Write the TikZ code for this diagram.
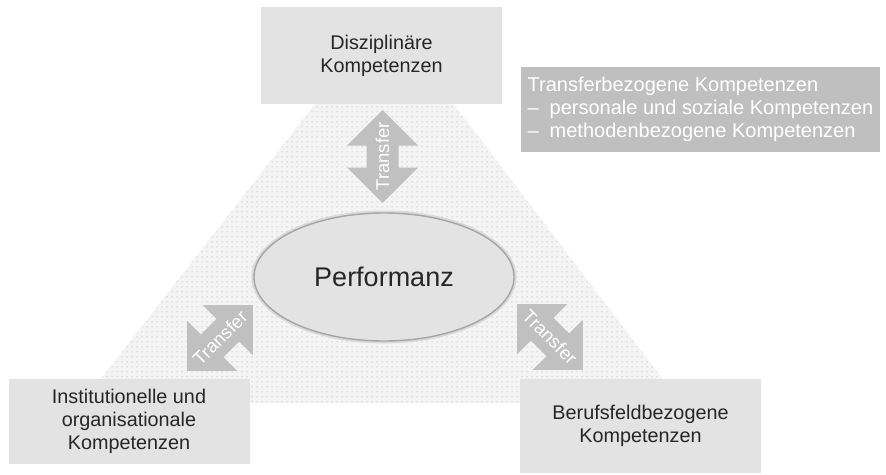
\documentclass[tikz,border=0pt]{standalone}
\usepackage{fontspec}
\setmainfont{Liberation Sans}
\usetikzlibrary{shapes.geometric,patterns.meta}
\definecolor{boxgray}{HTML}{E3E3E3}
\definecolor{arrowgray}{HTML}{C0C0C0}
\definecolor{tboxgray}{HTML}{BFBFBF}
\definecolor{textdark}{HTML}{262626}
\definecolor{trifill}{HTML}{F4F4F4}
\definecolor{dotcol}{HTML}{9A9A9A}
\tikzdeclarepattern{
  name=finedots,
  type=uncolored,
  bounding box={(0pt,0pt) and (5pt,5pt)},
  tile size={(5pt,5pt)},
  code={\fill (2.5pt,2.5pt) circle (0.6pt);}
}
\tikzset{
  compbox/.style={fill=boxgray, text=textdark, minimum width=241pt, align=center,
    font=\fontsize{19.8}{23.2}\selectfont, inner sep=0pt},
  transferlabel/.style={text=white, font=\fontsize{18.5}{20}\selectfont, inner sep=0pt},
  dblarrow/.pic={\fill[arrowgray] (0,46.5) -- (35.5,11) -- (16,11) -- (16,-11) -- (35.5,-11)
    -- (0,-46.5) -- (-35.5,-11) -- (-16,-11) -- (-16,11) -- (-35.5,11) -- cycle;}
}
\begin{document}
\begin{tikzpicture}[x=1pt,y=-1pt]
\useasboundingbox (0,0) rectangle (886,474);
% dotted triangle
\fill[trifill] (385,14) -- (681,403) -- (82,403) -- cycle;
\fill[pattern={finedots}, pattern color=dotcol] (385,14) -- (681,403) -- (82,403) -- cycle;
% boxes
\node[compbox, minimum height=97pt] (disz) at (381.5,55.5) {Disziplinäre\\Kompetenzen};
\node[compbox, minimum height=85pt] (inst) at (129,421.5) {Institutionelle und\\organisationale\\Kompetenzen};
\node[compbox, minimum height=94pt] (beruf) at (640.5,426) {Berufsfeldbezogene\\Kompetenzen};
\node[fill=tboxgray, text=white, minimum width=359pt, minimum height=85pt,
  align=left, inner sep=0pt, font=\fontsize{20}{23}\selectfont] (tbox) at (700.5,109.5)
  {Transferbezogene Kompetenzen\\\makebox[22pt][l]{–}personale und soziale Kompetenzen\\\makebox[22pt][l]{–}methodenbezogene Kompetenzen};
% ellipse
\draw[gray!30, line width=5pt] (384,277) ellipse [x radius=130, y radius=64];
\node[ellipse, fill=boxgray, draw=gray!70, line width=1.4pt, minimum width=260pt, minimum height=128pt,
  inner sep=0pt, text=textdark, font=\fontsize{27}{30}\selectfont] (perf) at (384,277) {Performanz};
% arrows
\pic at (382.5,156.5) {dblarrow};
\node[transferlabel, rotate=90] (t1) at (382.5,156.5) {Transfer};
\pic[rotate=-45] at (220,338) {dblarrow};
\node[transferlabel, rotate=45] (t2) at (220,338) {Transfer};
\pic[rotate=45] at (550,337) {dblarrow};
\node[transferlabel, rotate=-45] (t3) at (550,337) {Transfer};
\end{tikzpicture}
\end{document}
